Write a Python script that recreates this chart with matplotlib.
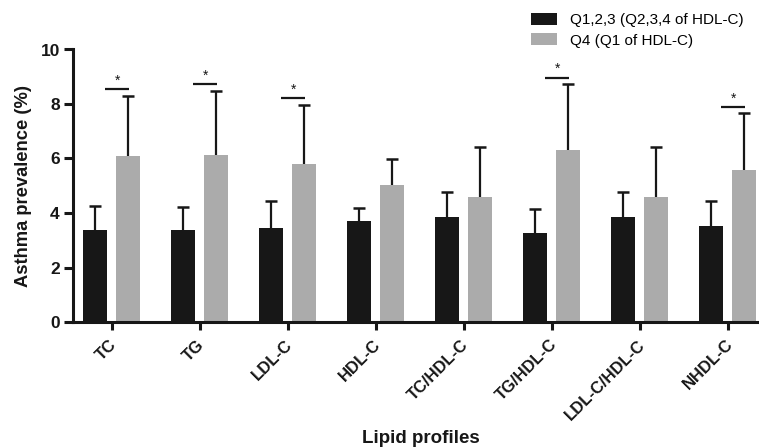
import matplotlib
matplotlib.use("Agg")
import matplotlib.pyplot as plt
import matplotlib.transforms as mtransforms
import numpy as np
from matplotlib.patches import Patch

plt.rcParams['font.family'] = ['Liberation Sans', 'DejaVu Sans']

categories = ["TC", "TG", "LDL-C", "HDL-C", "TC/HDL-C", "TG/HDL-C", "LDL-C/HDL-C", "NHDL-C"]
q123_mean = [3.38, 3.36, 3.46, 3.71, 3.84, 3.28, 3.84, 3.54]
q123_upper = [4.25, 4.22, 4.44, 4.18, 4.78, 4.14, 4.78, 4.43]
q4_mean = [6.09, 6.12, 5.79, 5.04, 4.60, 6.32, 4.60, 5.57]
q4_upper = [8.29, 8.49, 7.96, 5.97, 6.41, 8.72, 6.41, 7.67]
sig_heights = [8.55, 8.73, 8.23, None, None, 8.97, None, 7.88]
legend_labels = ["Q1,2,3 (Q2,3,4 of HDL-C)", "Q4 (Q1 of HDL-C)"]

c_dark = "#171717"
c_gray = "#ababab"

fig = plt.figure(figsize=(7.59, 4.48), dpi=100)
ax = fig.add_axes([73/759, 126/448, 698.5/759, 272.5/448])

x = np.arange(len(categories))
off = 0.1875
w = 0.284

ax.bar(x - off, q123_mean, w, color=c_dark, zorder=2)
ax.bar(x + off, q4_mean, w, color=c_gray, zorder=2)
for xs, lo, hi in [(x - off, q123_mean, q123_upper), (x + off, q4_mean, q4_upper)]:
    ax.vlines(xs, lo, hi, color=c_dark, lw=1.6, zorder=1)
    ax.plot(xs, hi, linestyle='none', marker='_', markersize=9, mew=1.8, color=c_dark, zorder=1)

for i, h in enumerate(sig_heights):
    if h is None:
        continue
    ax.plot([i - 0.07, i + 0.195], [h, h], color=c_dark, lw=1.6, solid_capstyle='butt', zorder=3)
    ax.text(i + 0.065, h + 0.05, "*", ha='center', va='bottom', fontsize=10, color=c_dark)

ax.set_xlim(-0.4375, 7.5)
ax.set_ylim(0, 10)
ax.set_yticks([0, 2, 4, 6, 8, 10])
ax.set_xticks(x)
ax.set_xticklabels([])
label_tr = ax.get_xaxis_transform() + mtransforms.ScaledTranslation(6/100, -23.5/100, fig.dpi_scale_trans)
for i, cat in enumerate(categories):
    ax.text(i, 0, cat, transform=label_tr, rotation=45, rotation_mode='anchor',
            ha='right', va='baseline', fontsize=12, fontweight='bold', color=c_dark, clip_on=False)
for lab in ax.get_yticklabels():
    lab.set_fontsize(12.5)
    lab.set_fontweight('bold')
    lab.set_color(c_dark)

for s in ['top', 'right']:
    ax.spines[s].set_visible(False)
for s in ['left', 'bottom']:
    ax.spines[s].set_linewidth(2.2)
    ax.spines[s].set_color(c_dark)
ax.tick_params(axis='y', length=6.5, width=2.2, color=c_dark, pad=3)
ax.tick_params(axis='x', length=6, width=2.2, color=c_dark, pad=5)

ax.set_ylabel("Asthma prevalence (%)", fontsize=13.2, fontweight='bold', color=c_dark, labelpad=6)
fig.text(421/759, 1 - 438/448, "Lipid profiles", ha='center', va='center',
         fontsize=13.5, fontweight='bold', color=c_dark)

handles = [Patch(facecolor=c_dark, edgecolor='none'), Patch(facecolor=c_gray, edgecolor='none')]
fig.legend(handles, legend_labels, loc='upper left', bbox_to_anchor=(530.7/759, 1 - 13/448),
           frameon=False, fontsize=11, handlelength=1.7, handleheight=0.85,
           handletextpad=0.87, labelspacing=0.38, borderpad=0, borderaxespad=0)

fig.savefig("out.png", dpi=100)
